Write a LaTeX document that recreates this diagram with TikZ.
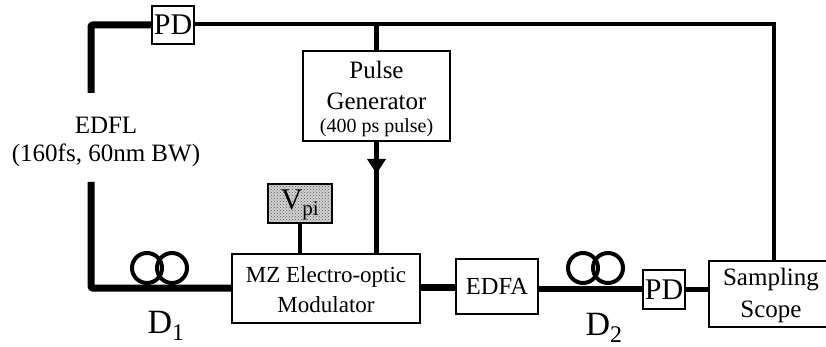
\documentclass[tikz,border=0pt]{standalone}
\usepackage{fontspec}
\setmainfont{Liberation Serif}
\usepackage{tikz}
\usetikzlibrary{positioning,arrows.meta,calc,patterns}
\newcommand{\fsz}[1]{\fontsize{#1}{#1}\selectfont}

\begin{document}
\begin{tikzpicture}[x=1pt,y=-1pt,
 box/.style={rectangle,draw=black,fill=white,line width=1.8pt,inner sep=0pt,align=center},
 coil/.style={circle,draw=black,line width=4pt,minimum size=30pt,inner sep=0pt},
 fibreH/.style={draw=black,line width=7pt,rounded corners=2pt},
 fibreM/.style={draw=black,line width=5.5pt},
 wire/.style={draw=black,line width=4.6pt},
 tip/.style={-{Triangle[length=15pt,width=18pt]},black,line width=4.6pt},
 label/.style={align=center,inner sep=0pt,font=\fsz{25}}]
\useasboundingbox (0,0) rectangle (826,347);

% Boxes along the optical path
\node[box,minimum width=42pt,minimum height=38pt,font=\fsz{30}] (pdA) at (173,25) {PD};
\node[box,minimum width=147pt,minimum height=90pt] (pulseGen) at (376.5,96) {};
\node[box,minimum width=188pt,minimum height=69pt] (modZ) at (326,288.5) {};
\node[box,minimum width=82pt,minimum height=55pt,font=\fsz{24.5}] (edfa) at (497,286.5) {EDFA};
\node[box,minimum width=42pt,minimum height=39pt,font=\fsz{30}] (pdB) at (664,289.5) {PD};
\node[box,minimum width=122pt,minimum height=66pt] (scope) at (770,294) {};
\node[box,line width=2.6pt,minimum width=64pt,minimum height=39pt,preaction={fill=gray!35},
 pattern=crosshatch dots,pattern color=black!65] (vpi) at (300,203.5) {};

% Texts inside the boxes
\node[label] (pulseA) at (376.5,70) {Pulse};
\node[label] (pulseB) at (376.5,101) {Generator};
\node[label,font=\fsz{20}] (pulseC) at (376.5,128) {(400 ps pulse)};
\node[label,font=\fsz{23}] (modA) at (326,277) {MZ Electro-optic};
\node[label,font=\fsz{23}] (modB) at (326,305) {Modulator};
\node[label] (scopeA) at (771,280) {Sampling};
\node[label] (scopeB) at (771,312) {Scope};
\node[label,font=\fsz{30}] (vpiT) at (300,205) {V\textsubscript{pi}};

% Laser label, the fibre stops above and below it
\node[label] (edflA) at (106,125) {EDFL};
\node[label] (edflB) at (106,155) {(160fs, 60nm BW)};
\coordinate (edflTop) at (91,93);
\coordinate (edflBot) at (91,182);

% Fibre coils
\node[coil] (coilA) at (147,268) {};
\node[coil] (coilB) at (172,268) {};
\node[coil] (coilC) at (583,268) {};
\node[coil] (coilD) at (608,268) {};
\node[label,font=\fsz{34}] (dA) at (166,326) {D\textsubscript{1}};
\node[label,font=\fsz{34}] (dB) at (604,328) {D\textsubscript{2}};

% Fibre runs
\draw[fibreH] (edflTop) |- (pdA.west);
\draw[fibreH] (edflBot) |- (modZ.west |- 0,288);
\draw[fibreH] (modZ.east |- 0,287) -- (edfa.west |- 0,287);
\draw[fibreM] (edfa.east |- 0,289) -- (pdB.west |- 0,289);

% Electrical lines
\coordinate (topEnd) at (774,24);
\draw[wire] (pdA.east |- topEnd) -- (topEnd) -- (topEnd |- scope.north);
\draw[wire] (pulseGen.north) -- (pulseGen.north |- topEnd);
\draw[wire] (pulseGen.south) -- (pulseGen.south |- modZ.north);
\coordinate (tipEnd) at ($(pulseGen.south)+(0,32)$);
\draw[tip] (pulseGen.south) -- (tipEnd);
\draw[wire] (vpi.south) -- (vpi.south |- modZ.north);
\draw[wire] (pdB.east) -- (pdB.east -| scope.west);
\end{tikzpicture}
\end{document}
